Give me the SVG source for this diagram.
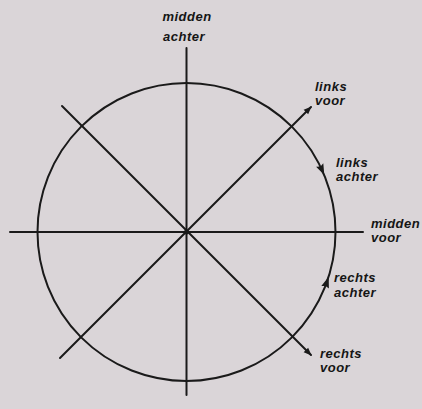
<svg xmlns="http://www.w3.org/2000/svg" width="422" height="409" viewBox="0 0 422 409">
<style>
.ln{stroke:#1a1a1a;stroke-width:2;fill:none;stroke-linecap:round}
.t{font-family:"Liberation Sans",Arial,sans-serif;font-style:italic;font-weight:bold;font-size:13px;fill:#151515;letter-spacing:0.5px}
</style>
<defs>
<marker id="ah" viewBox="0 0 10 10" refX="9" refY="5" markerWidth="8" markerHeight="8" orient="auto" markerUnits="userSpaceOnUse">
<path d="M0,1 L10,5 L0,9 Z" fill="#1a1a1a"/>
</marker>
</defs>
<rect width="422" height="409" fill="#dad5d8"/>
<g id="connectors">
<circle id="circle" class="ln" cx="186.5" cy="232" r="149" stroke-width="1.8"/>
<line class="ln" x1="186.5" y1="48" x2="186.5" y2="395"/>
<line class="ln" x1="10" y1="232" x2="363" y2="232"/>
<line class="ln" x1="60" y1="358" x2="311" y2="107" marker-end="url(#ah)"/>
<line class="ln" x1="62" y1="106" x2="311" y2="355" marker-end="url(#ah)"/>
<path d="M324.3,175 L323.3,163.3 L320.5,166.5 L316.1,166.7 Z" fill="#1a1a1a"/>
<path d="M328.7,276.8 L328.9,288.5 L325.6,286 L321.3,285.9 Z" fill="#1a1a1a"/>
<circle cx="186.5" cy="232" r="2.5" fill="#1a1a1a"/>
</g>
<g id="midden-achter"><text class="t" x="187" y="21" text-anchor="middle">midden</text><text class="t" x="184" y="41" text-anchor="middle">achter</text></g>
<g id="links-voor"><text class="t" x="315" y="91">links</text><text class="t" x="315" y="105">voor</text></g>
<g id="links-achter"><text class="t" x="336" y="167">links</text><text class="t" x="336" y="181">achter</text></g>
<g id="midden-voor"><text class="t" x="371" y="228">midden</text><text class="t" x="371" y="242">voor</text></g>
<g id="rechts-achter"><text class="t" x="334" y="282">rechts</text><text class="t" x="334" y="297">achter</text></g>
<g id="rechts-voor"><text class="t" x="320" y="358">rechts</text><text class="t" x="320" y="372">voor</text></g>
</svg>
